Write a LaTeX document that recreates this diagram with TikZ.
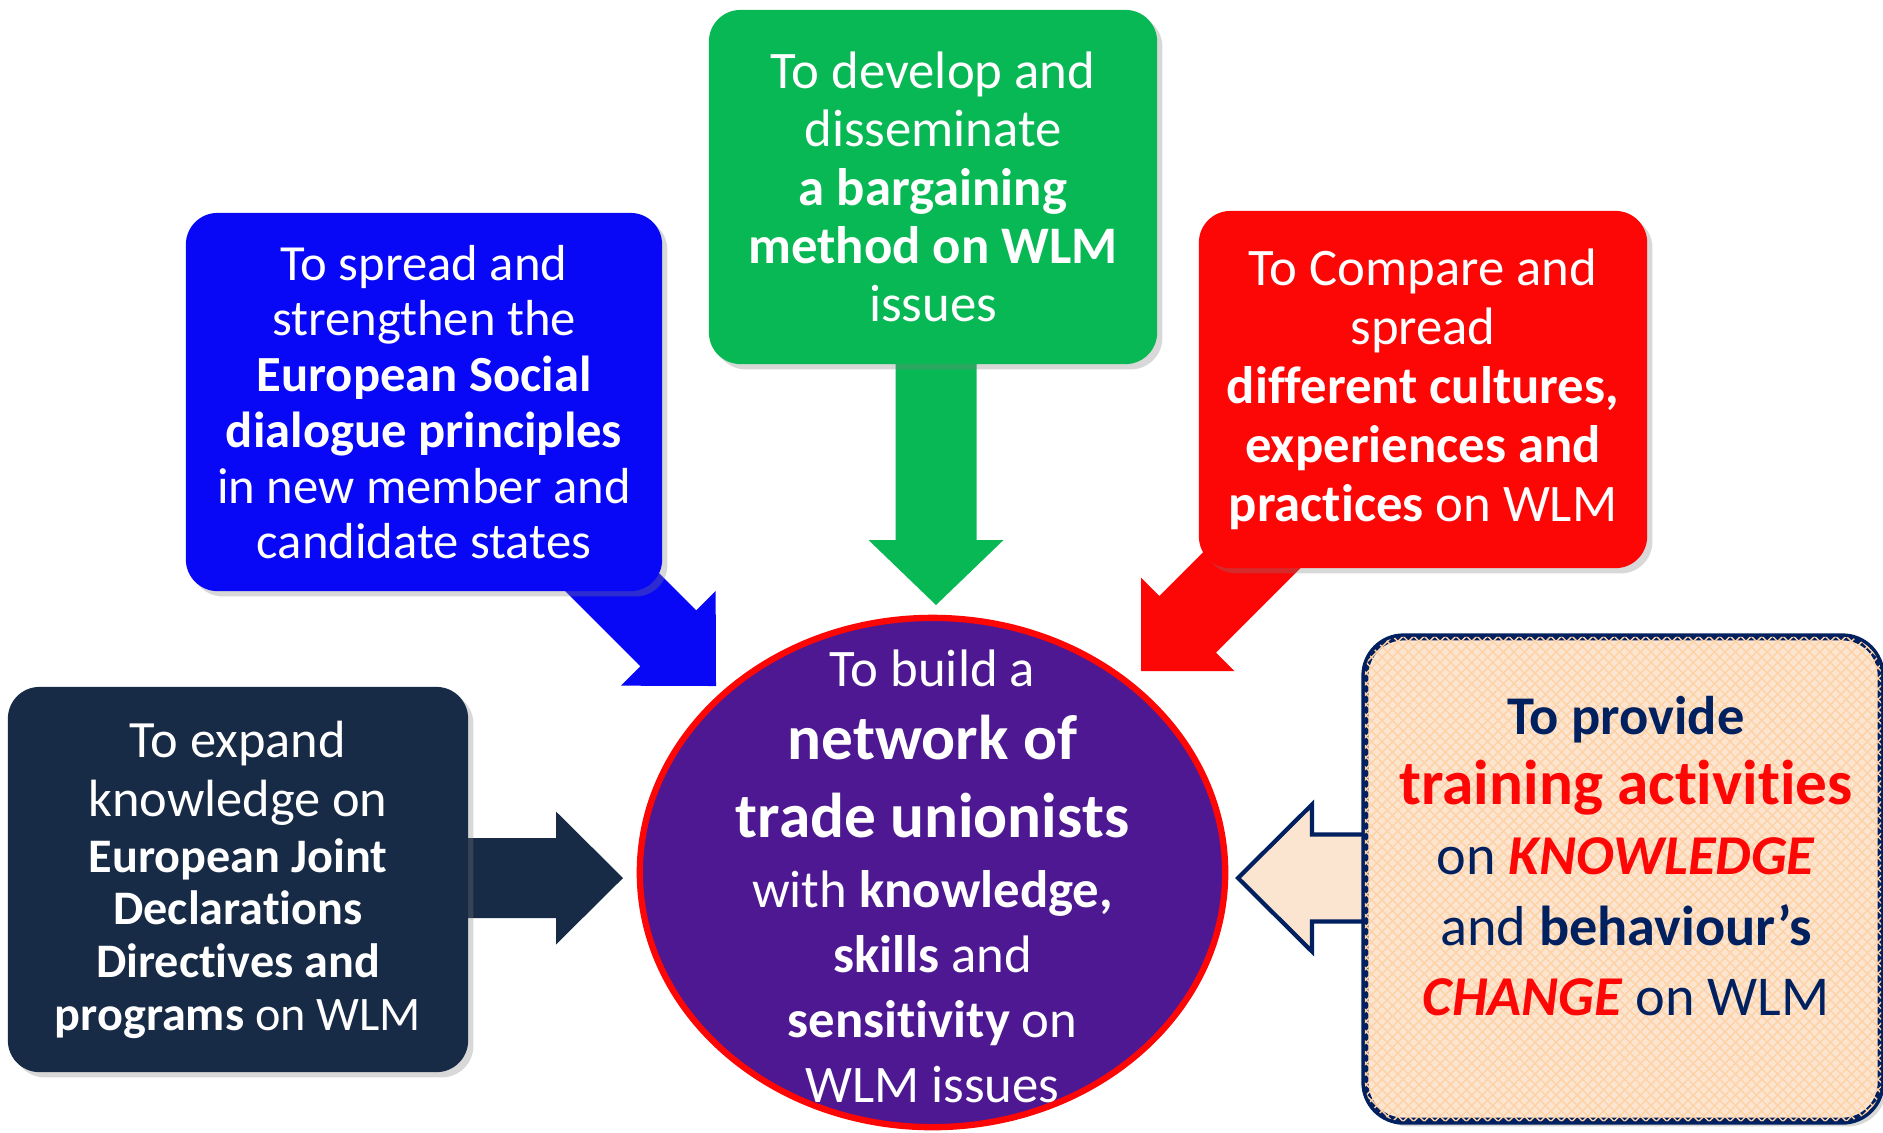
\documentclass[tikz,border=0pt]{standalone}
\usepackage{fontspec}
\setmainfont{Carlito}[Ligatures=NoCommon]
\usetikzlibrary{shapes.geometric,shadows,patterns,backgrounds}

\definecolor{goalgreen}{RGB}{8,184,84}
\definecolor{goalblue}{RGB}{8,8,246}
\definecolor{goalred}{RGB}{252,6,6}
\definecolor{deepnavy}{RGB}{23,42,70}
\definecolor{inknavy}{RGB}{0,32,96}
\definecolor{peach}{RGB}{251,229,208}
\definecolor{hubviolet}{RGB}{78,24,146}

\newcommand\boxfont[2]{\fontsize{#1pt}{#2pt}\selectfont}

\tikzset{
    goalbox/.style={rectangle, rounded corners=9pt, align=center, text=white, inner sep=0pt,
        drop shadow={shadow xshift=1.5pt, shadow yshift=-1.5pt, opacity=0.3}},
    hatched/.style={postaction={pattern=north east lines, pattern color=orange!35},
        postaction={pattern=north west lines, pattern color=orange!35}},
    pics/blockarrow/.style n args={4}{code={
        % shaft length / shaft half width / head length / head half width
        \path[pic actions] (-#1,-#2) -- (-#3,-#2) -- (-#3,-#4) -- (0,0)
            -- (-#3,#4) -- (-#3,#2) -- (-#1,#2) -- cycle;
    }},
}

\begin{document}
\begin{tikzpicture}[x=0.01cm, y=-0.01cm]
    \useasboundingbox (0,0) rectangle (1883,1132);

    % the five aims
    \node[goalbox, fill=goalgreen, minimum width=4.48cm, minimum height=3.54cm,
        font={\boxfont{15}{16.6}}] (develop) at (933,187)
        {To develop and\\disseminate\\\textbf{a bargaining}\\\textbf{method on WLM}\\issues};
    \node[goalbox, fill=goalblue, minimum width=4.76cm, minimum height=3.78cm,
        font={\boxfont{14.4}{15.85}}] (spread) at (424,402)
        {To spread and\\strengthen the\\\textbf{European Social}\\\textbf{dialogue principles}\\in new member and\\candidate states};
    \node[goalbox, fill=goalred, minimum width=4.48cm, minimum height=3.57cm,
        font={\boxfont{15}{16.8}}] (compare) at (1423,389.5)
        {To Compare and\\spread\\\textbf{different cultures,}\\\textbf{experiences and}\\\textbf{practices} on WLM};
    \node[goalbox, fill=deepnavy, minimum width=4.60cm, minimum height=3.85cm,
        font={\boxfont{14.9}{16.8}}] (expand) at (238,879.5)
        {To expand\\knowledge on\\[-0.9pt]
         {\boxfont{13.7}{15}\textbf{European Joint}}\\[-1.8pt]
         {\boxfont{13.7}{15}\textbf{Declarations}}\\[-1.8pt]
         {\boxfont{13.7}{15}\textbf{Directives and}}\\[-1.8pt]
         {\boxfont{13.7}{15}\textbf{programs} on WLM}};
    \node[goalbox, rounded corners=11pt, draw=inknavy, line width=2pt, fill=peach, hatched,
        minimum width=5.16cm, minimum height=4.84cm] (provide) at (1623,879) {};
    \node[align=center, text=inknavy, font={\boxfont{16}{20}}] (providetext) at (1626,856)
        {{\boxfont{15.5}{20}\textbf{To provide}}\\
         \textcolor{goalred}{\boxfont{18}{20}\textbf{training activities}}\\
         on \textcolor{goalred}{\textbf{\textit{KNOWLEDGE}}}\\
         and \textbf{behaviour’s}\\
         \textcolor{goalred}{\textbf{\textit{CHANGE}}} on WLM};

    % the network in the middle
    \node[ellipse, draw=goalred, line width=1.8pt, fill=hubviolet,
        minimum width=5.85cm, minimum height=5.09cm] (hub) at (932.5,872.5) {};
    \node[align=center, text=white, font={\boxfont{15}{18.5}}] (hubtext) at ([yshift=-1.2pt]hub.center)
        {To build a\\[2.2pt]
         {\boxfont{18}{21}\textbf{network of}}\\[3.6pt]
         {\boxfont{18}{21}\textbf{trade unionists}}\\[1.5pt]
         with \textbf{knowledge,}\\
         \textbf{skills} and\\
         \textbf{sensitivity} on\\
         WLM issues};

    % arrow tips next to the network
    \coordinate (greentip) at (936,605);
    \coordinate (bluetip) at (716,686);
    \coordinate (redtip) at (1141,671);
    \coordinate (navytip) at (623,878);
    \coordinate (peachtip) at (1238,878);

    \begin{pgfonlayer}{background}
        \fill[white] (0,0) rectangle (1883,1132);
        \pic[fill=goalgreen, rotate=-90] at (greentip) {blockarrow={280}{40.5}{65}{67.5}};
        \pic[fill=goalblue, rotate=-45] at (bluetip) {blockarrow={220}{39.5}{67.5}{67}};
        \pic[fill=goalred, rotate=-135] at (redtip) {blockarrow={220}{40}{66}{66}};
        \pic[fill=deepnavy] at (navytip) {blockarrow={200}{40}{67}{66.5}};
        \pic[fill=peach, draw=inknavy, line width=1.2pt, hatched, rotate=180] at (peachtip)
            {blockarrow={160}{43.5}{74}{73.5}};
    \end{pgfonlayer}
\end{tikzpicture}
\end{document}
